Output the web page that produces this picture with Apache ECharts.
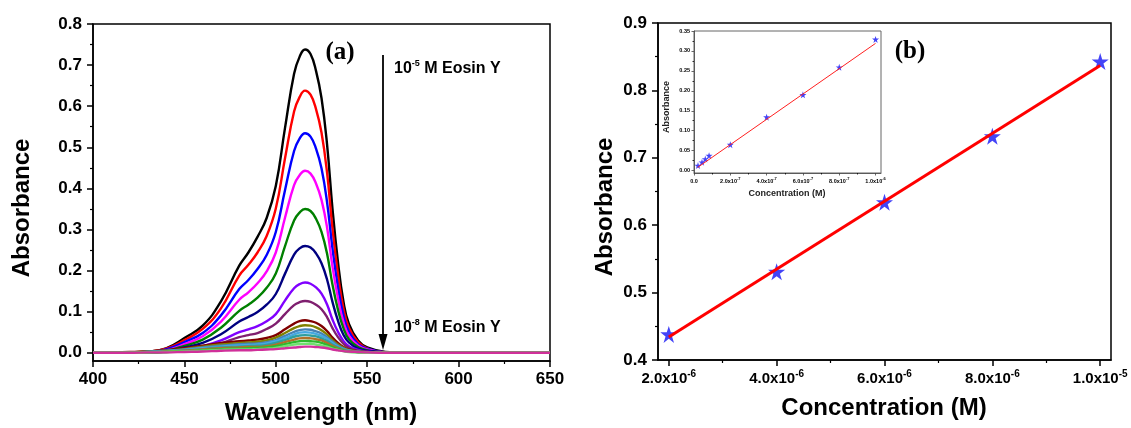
<!DOCTYPE html>
<html>
<head>
<meta charset="utf-8">
<script src="https://cdn.jsdelivr.net/npm/echarts@6/dist/echarts.min.js"></script>
<style>
html,body{margin:0;padding:0;background:#fff;}
#chart{width:1131px;height:428px;}
</style>
</head>
<body>
<div id="chart"></div>
<script>
// ---------- Panel (a): UV-vis spectra ----------
var wavelength = [400, 420, 430, 440, 450, 460, 470, 480, 485, 490, 495, 500, 505, 510, 513, 516, 519, 522, 525, 528, 531, 534, 537, 540, 545, 550, 560, 570, 600, 650];
var specBlack   = [0, 0.001, 0.003, 0.011, 0.036, 0.066, 0.125, 0.212, 0.244, 0.282, 0.328, 0.406, 0.546, 0.679, 0.720, 0.738, 0.727, 0.686, 0.620, 0.509, 0.351, 0.221, 0.125, 0.070, 0.030, 0.013, 0.002, 0, 0, 0];
var specRed     = [0, 0.001, 0.003, 0.010, 0.031, 0.058, 0.108, 0.188, 0.214, 0.244, 0.284, 0.351, 0.472, 0.587, 0.622, 0.638, 0.628, 0.593, 0.536, 0.440, 0.303, 0.191, 0.108, 0.061, 0.026, 0.011, 0.001, 0, 0, 0];
var specBlue    = [0, 0.001, 0.002, 0.008, 0.026, 0.048, 0.091, 0.155, 0.177, 0.204, 0.238, 0.294, 0.395, 0.491, 0.521, 0.534, 0.526, 0.497, 0.449, 0.368, 0.254, 0.160, 0.091, 0.051, 0.021, 0.010, 0.001, 0, 0, 0];
var specMagenta = [0, 0, 0.002, 0.006, 0.021, 0.040, 0.076, 0.129, 0.147, 0.169, 0.198, 0.244, 0.328, 0.408, 0.432, 0.443, 0.436, 0.412, 0.372, 0.306, 0.210, 0.133, 0.075, 0.042, 0.018, 0.008, 0.001, 0, 0, 0];
var specGreen   = [0, 0, 0.001, 0.005, 0.017, 0.032, 0.061, 0.102, 0.117, 0.134, 0.158, 0.193, 0.259, 0.322, 0.341, 0.350, 0.345, 0.326, 0.294, 0.242, 0.166, 0.105, 0.060, 0.033, 0.014, 0.006, 0.001, 0, 0, 0];
var specNavy    = [0, 0, 0.001, 0.004, 0.013, 0.024, 0.045, 0.076, 0.087, 0.099, 0.117, 0.143, 0.192, 0.239, 0.254, 0.260, 0.256, 0.242, 0.218, 0.179, 0.124, 0.078, 0.044, 0.025, 0.010, 0.005, 0.001, 0, 0, 0];
var specViolet  = [0, 0, 0.001, 0.003, 0.008, 0.016, 0.030, 0.050, 0.057, 0.065, 0.077, 0.094, 0.127, 0.157, 0.167, 0.171, 0.168, 0.159, 0.144, 0.118, 0.081, 0.051, 0.029, 0.016, 0.007, 0.003, 0, 0, 0, 0];
var specPurple  = [0, 0, 0.001, 0.002, 0.006, 0.012, 0.023, 0.038, 0.043, 0.048, 0.058, 0.071, 0.094, 0.116, 0.123, 0.126, 0.124, 0.117, 0.106, 0.087, 0.060, 0.038, 0.022, 0.012, 0.005, 0.002, 0, 0, 0, 0];
var specWine    = [0, 0.002, 0.003, 0.006, 0.011, 0.017, 0.024, 0.028, 0.030, 0.032, 0.036, 0.043, 0.057, 0.071, 0.077, 0.079, 0.077, 0.073, 0.065, 0.053, 0.037, 0.024, 0.014, 0.008, 0.004, 0.002, 0, 0, 0, 0];
var specOlive   = [0, 0.001, 0.003, 0.005, 0.009, 0.015, 0.020, 0.024, 0.025, 0.027, 0.030, 0.037, 0.048, 0.060, 0.065, 0.067, 0.066, 0.062, 0.055, 0.045, 0.031, 0.020, 0.012, 0.007, 0.003, 0.001, 0, 0, 0, 0];
var specSteel   = [0, 0.001, 0.002, 0.005, 0.008, 0.013, 0.017, 0.021, 0.022, 0.023, 0.026, 0.031, 0.041, 0.051, 0.055, 0.057, 0.056, 0.052, 0.047, 0.038, 0.027, 0.017, 0.010, 0.006, 0.003, 0.001, 0, 0, 0, 0];
var specSky     = [0, 0.001, 0.002, 0.004, 0.007, 0.011, 0.015, 0.018, 0.019, 0.020, 0.023, 0.028, 0.036, 0.045, 0.049, 0.050, 0.049, 0.046, 0.041, 0.034, 0.024, 0.015, 0.009, 0.005, 0.002, 0.001, 0, 0, 0, 0];
var specTeal    = [0, 0.001, 0.002, 0.003, 0.006, 0.009, 0.013, 0.015, 0.016, 0.017, 0.019, 0.024, 0.031, 0.039, 0.042, 0.043, 0.042, 0.040, 0.035, 0.029, 0.020, 0.013, 0.008, 0.004, 0.002, 0.001, 0, 0, 0, 0];
var specOrange  = [0, 0.001, 0.001, 0.003, 0.005, 0.008, 0.011, 0.013, 0.014, 0.014, 0.016, 0.020, 0.026, 0.032, 0.035, 0.036, 0.035, 0.033, 0.030, 0.024, 0.017, 0.011, 0.006, 0.004, 0.002, 0.001, 0, 0, 0, 0];
var specGreen2  = [0, 0.001, 0.001, 0.002, 0.004, 0.006, 0.009, 0.010, 0.011, 0.012, 0.013, 0.016, 0.021, 0.026, 0.028, 0.029, 0.028, 0.027, 0.024, 0.019, 0.014, 0.009, 0.005, 0.003, 0.001, 0.001, 0, 0, 0, 0];
var specLime    = [0, 0, 0.001, 0.002, 0.003, 0.005, 0.007, 0.008, 0.008, 0.009, 0.010, 0.012, 0.016, 0.020, 0.021, 0.022, 0.022, 0.020, 0.018, 0.015, 0.010, 0.007, 0.004, 0.002, 0.001, 0, 0, 0, 0, 0];
var specPink    = [0, 0, 0.001, 0.001, 0.002, 0.003, 0.005, 0.006, 0.006, 0.007, 0.008, 0.009, 0.011, 0.013, 0.014, 0.015, 0.015, 0.014, 0.013, 0.011, 0.008, 0.006, 0.004, 0.003, 0.002, 0.001, 0, 0, 0, 0];
var spectra = [specBlack, specRed, specBlue, specMagenta, specGreen, specNavy, specViolet, specPurple, specWine, specOlive, specSteel, specSky, specTeal, specOrange, specGreen2, specLime, specPink];
var spectraColors = ['#000000', '#FF0000', '#0000FF', '#FF00FF', '#008000', '#000080', '#8000FF', '#7F1F6F', '#800000', '#808000', '#4682B4', '#45A8E0', '#2E9E9E', '#B0702A', '#2EB82E', '#70E070', '#D0309A'];
var aXTicks = [400, 450, 500, 550, 600, 650];
var aXMinor = [425, 475, 525, 575, 625];
var aYTicks = [0.0, 0.1, 0.2, 0.3, 0.4, 0.5, 0.6, 0.7, 0.8];
var aYMinor = [0.05, 0.15, 0.25, 0.35, 0.45, 0.55, 0.65, 0.75];

// ---------- Panel (b): calibration ----------
var bConc = [2e-6, 4e-6, 6e-6, 8e-6, 1e-5];
var bAbs  = [0.438, 0.531, 0.634, 0.732, 0.843];
var bFitX = [2e-6, 1e-5];
var bFitY = [0.434, 0.837];
var bXTicks = [2e-6, 4e-6, 6e-6, 8e-6, 1e-5];
var bXMant  = ['2.0', '4.0', '6.0', '8.0', '1.0'];
var bXExp   = ['-6', '-6', '-6', '-6', '-5'];
var bXMinor = [3e-6, 5e-6, 7e-6, 9e-6];
var bYTicks = [0.4, 0.5, 0.6, 0.7, 0.8, 0.9];
var bYMinor = [0.45, 0.55, 0.65, 0.75, 0.85];

// ---------- Inset ----------
var iConc = [2.2e-8, 4.4e-8, 6.2e-8, 8.3e-8, 2e-7, 4e-7, 6e-7, 8e-7, 1e-6];
var iAbs  = [0.0125, 0.021, 0.029, 0.0375, 0.065, 0.134, 0.190, 0.259, 0.329];
var iFitX = [2e-8, 1e-6];
var iFitY = [0.008, 0.319];
var iXTicks = [0, 2e-7, 4e-7, 6e-7, 8e-7, 1e-6];
var iXMant  = ['0.0', '2.0', '4.0', '6.0', '8.0', '1.0'];
var iXExp   = ['', '-7', '-7', '-7', '-7', '-6'];
var iXMinor = [1e-7, 3e-7, 5e-7, 7e-7, 9e-7];
var iYTicks = [0, 0.05, 0.10, 0.15, 0.20, 0.25, 0.30, 0.35];
var iYMinor = [0.025, 0.075, 0.125, 0.175, 0.225, 0.275, 0.325];

var FONT = '"Liberation Sans", Arial, sans-serif';
var STAR = 'path://M50,0 L61.2,34.5 L97.6,34.5 L68.2,55.9 L79.4,90.5 L50,69.1 L20.6,90.5 L31.8,55.9 L2.4,34.5 L38.8,34.5 Z';

function nearestIdx(arr, v) {
  var best = 0, d = Infinity;
  for (var i = 0; i < arr.length; i++) { var dd = Math.abs(arr[i] - v); if (dd < d) { d = dd; best = i; } }
  return best;
}

function majorAxis(gridIndex, pos, min, max, ticks, opts) {
  return {
    type: 'value', gridIndex: gridIndex, position: pos, min: min, max: max, z: opts.z || 0,
    axisLine: { show: true, onZero: false, lineStyle: { color: opts.lineColor || '#000', width: opts.lineWidth || 1.5 } },
    axisTick: { show: true, inside: false, length: opts.tickLen, customValues: ticks, lineStyle: { color: opts.lineColor || '#000', width: opts.lineWidth || 1.5 } },
    axisLabel: { show: true, customValues: ticks, margin: opts.margin, color: '#000', fontFamily: FONT, fontWeight: 'bold', fontSize: opts.fontSize, formatter: opts.formatter, rich: opts.rich },
    splitLine: { show: false }
  };
}
function minorAxis(gridIndex, pos, min, max, ticks, len, width, z) {
  return {
    type: 'value', gridIndex: gridIndex, position: pos, min: min, max: max, z: z || 0,
    axisLine: { show: false, onZero: false },
    axisTick: { show: true, inside: false, length: len, customValues: ticks, lineStyle: { color: '#000', width: width } },
    axisLabel: { show: false },
    splitLine: { show: false }
  };
}

var supRich = function (base, sup) {
  return {
    m: { fontFamily: FONT, fontWeight: 'bold', fontSize: base, color: '#000', lineHeight: base + 4 },
    s: { fontFamily: FONT, fontWeight: 'bold', fontSize: sup, color: '#000', verticalAlign: 'top', lineHeight: sup + 1 }
  };
};

var series = [];
for (var k = 0; k < spectra.length; k++) {
  var d = [];
  for (var j = 0; j < wavelength.length; j++) d.push([wavelength[j], spectra[k][j]]);
  series.push({
    type: 'line', xAxisIndex: 0, yAxisIndex: 0, data: d, showSymbol: false, symbol: 'none',
    smooth: 0.45, silent: true,
    lineStyle: { color: spectraColors[k], width: 2.4 }, z: 2 + k
  });
}
var bPts = bConc.map(function (c, i) { return [c, bAbs[i]]; });
var bFit = bFitX.map(function (c, i) { return [c, bFitY[i]]; });
var iPts = iConc.map(function (c, i) { return [c, iAbs[i]]; });
var iFit = iFitX.map(function (c, i) { return [c, iFitY[i]]; });

series.push({ type: 'scatter', xAxisIndex: 2, yAxisIndex: 2, data: bPts, symbol: STAR, symbolSize: 17, itemStyle: { color: '#1414F5' }, z: 3 });
series.push({ type: 'line', xAxisIndex: 2, yAxisIndex: 2, data: bFit, symbol: 'none', lineStyle: { color: '#FF0000', width: 3 }, z: 4 });
series.push({ type: 'scatter', xAxisIndex: 4, yAxisIndex: 4, data: iPts, symbol: STAR, symbolSize: 7, itemStyle: { color: '#1414F5' }, z: 6 });
series.push({ type: 'line', xAxisIndex: 4, yAxisIndex: 4, data: iFit, symbol: 'none', lineStyle: { color: '#FF2020', width: 1 }, z: 7 });

var fmt1 = function (v) { return v.toFixed(1); };
var option = {
  backgroundColor: '#fff',
  animation: false,
  grid: [
    { left: 93, top: 24, width: 457, height: 337, show: true, borderColor: '#000', borderWidth: 1.5, backgroundColor: 'transparent' },
    { left: 658, top: 23, width: 453, height: 337, show: true, borderColor: '#000', borderWidth: 1.5, backgroundColor: 'transparent' },
    { left: 694, top: 31, width: 187, height: 142, show: true, borderColor: '#666', borderWidth: 1, backgroundColor: '#fff', z: 5 }
  ],
  xAxis: [
    majorAxis(0, 'bottom', 400, 650, aXTicks, { tickLen: 6, margin: 10, fontSize: 17 }),
    minorAxis(0, 'bottom', 400, 650, aXMinor, 3, 1.2),
    majorAxis(1, 'bottom', 1.8e-6, 1.02e-5, bXTicks, { tickLen: 6, margin: 9, fontSize: 15,
      formatter: function (v) { var i = nearestIdx(bXTicks, v); return '{m|' + bXMant[i] + 'x10}{s|' + bXExp[i] + '}'; },
      rich: supRich(15, 10) }),
    minorAxis(1, 'bottom', 1.8e-6, 1.02e-5, bXMinor, 3, 1.2),
    majorAxis(2, 'bottom', 0, 1.03e-6, iXTicks, { tickLen: 2.5, margin: 4, fontSize: 5.5, lineColor: '#444', lineWidth: 0.8, z: 6,
      formatter: function (v) { var i = nearestIdx(iXTicks, v); return iXExp[i] ? '{m|' + iXMant[i] + 'x10}{s|' + iXExp[i] + '}' : '{m|' + iXMant[i] + '}'; },
      rich: supRich(5.5, 4) }),
    minorAxis(2, 'bottom', 0, 1.03e-6, iXMinor, 1.5, 0.8, 6)
  ],
  yAxis: [
    majorAxis(0, 'left', -0.02, 0.8, aYTicks, { tickLen: 6, margin: 11, fontSize: 17, formatter: fmt1 }),
    minorAxis(0, 'left', -0.02, 0.8, aYMinor, 3, 1.2),
    majorAxis(1, 'left', 0.4, 0.9, bYTicks, { tickLen: 6, margin: 11, fontSize: 17, formatter: fmt1 }),
    minorAxis(1, 'left', 0.4, 0.9, bYMinor, 3, 1.2),
    majorAxis(2, 'left', -0.006, 0.35, iYTicks, { tickLen: 2.5, margin: 4, fontSize: 5.5, lineColor: '#444', lineWidth: 0.8, z: 6, formatter: function (v) { return v.toFixed(2); } }),
    minorAxis(2, 'left', -0.006, 0.35, iYMinor, 1.5, 0.8, 6)
  ],
  series: series,
  graphic: [
    { type: 'text', x: 22, y: 208, rotation: Math.PI / 2, style: { text: 'Absorbance', font: 'bold 24px ' + FONT, fill: '#000', textAlign: 'center', textVerticalAlign: 'middle' } },
    { type: 'text', x: 321, y: 413, style: { text: 'Wavelength (nm)', font: 'bold 24px ' + FONT, fill: '#000', textAlign: 'center', textVerticalAlign: 'middle' } },
    { type: 'text', x: 605, y: 207, rotation: Math.PI / 2, style: { text: 'Absorbance', font: 'bold 24px ' + FONT, fill: '#000', textAlign: 'center', textVerticalAlign: 'middle' } },
    { type: 'text', x: 884, y: 408, style: { text: 'Concentration (M)', font: 'bold 24px ' + FONT, fill: '#000', textAlign: 'center', textVerticalAlign: 'middle' } },
    { type: 'text', x: 667, y: 107, rotation: Math.PI / 2, z: 10, style: { text: 'Absorbance', font: 'bold 9px ' + FONT, fill: '#222', textAlign: 'center', textVerticalAlign: 'middle' } },
    { type: 'text', x: 787, y: 194, z: 10, style: { text: 'Concentration (M)', font: 'bold 9px ' + FONT, fill: '#222', textAlign: 'center', textVerticalAlign: 'middle' } },
    { type: 'text', x: 340, y: 53, style: { text: '(a)', font: 'bold 25px "Liberation Serif", "Times New Roman", serif', fill: '#000', textAlign: 'center', textVerticalAlign: 'middle' } },
    { type: 'text', x: 910, y: 52, z: 10, style: { text: '(b)', font: 'bold 25px "Liberation Serif", "Times New Roman", serif', fill: '#000', textAlign: 'center', textVerticalAlign: 'middle' } },
    { type: 'line', shape: { x1: 383, y1: 55, x2: 383, y2: 338 }, style: { stroke: '#000', lineWidth: 1.8 } },
    { type: 'polygon', shape: { points: [[378.5, 334], [387.5, 334], [383, 350]] }, style: { fill: '#000' } },
    { type: 'text', x: 394, y: 69, style: { text: '{m|10}{s|-5}{m| M Eosin Y}', rich: supRich(16, 9), textVerticalAlign: 'middle' } },
    { type: 'text', x: 394, y: 328, style: { text: '{m|10}{s|-8}{m| M Eosin Y}', rich: supRich(16, 9), textVerticalAlign: 'middle' } }
  ]
};

var chart = echarts.init(document.getElementById('chart'), null, { renderer: 'canvas' });
chart.setOption(option);
</script>
</body>
</html>
